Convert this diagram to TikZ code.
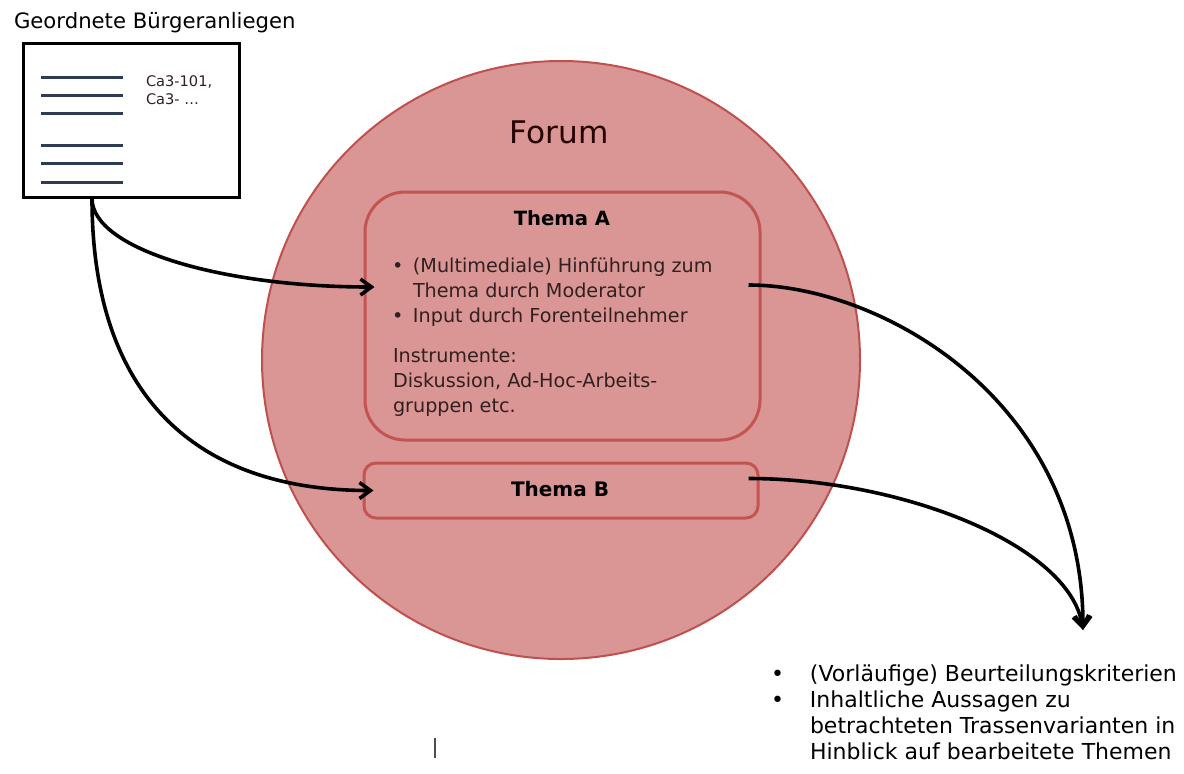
\documentclass[tikz,border=0pt]{standalone}
\usepackage{fontspec}
\setmainfont{DejaVu Sans}
\usetikzlibrary{arrows.meta,positioning}

\definecolor{forumfill}{RGB}{217,150,148}
\definecolor{forumedge}{RGB}{192,80,77}
\definecolor{themaedge}{RGB}{196,84,82}
\definecolor{listline}{RGB}{45,60,82}
\definecolor{darktext}{RGB}{50,32,32}

\tikzset{
  forumcircle/.style={circle, fill=forumfill, draw=forumedge, line width=1pt,
    minimum size=299pt, inner sep=0pt},
  themabox/.style={draw=themaedge, line width=1.5pt, rounded corners=#1,
    inner sep=0pt},
  docbox/.style={draw=black, fill=white, line width=1.5pt, inner sep=0pt,
    minimum width=108pt, minimum height=77pt},
  plaintext/.style={inner sep=0pt, outer sep=0pt},
  itemtext/.style={plaintext, align=left, text=darktext,
    font=\fontsize{9.6}{12.5}\selectfont},
  flowarrow/.style={line width=1.8pt, -{Straight Barb[length=5.5pt,width=8pt]}},
}
\newcommand{\bul}[1]{\makebox[#1][l]{\textbullet}}

\begin{document}
\begin{tikzpicture}[x=0.5pt, y=-0.5pt]
\useasboundingbox (0,0) rectangle (1184,773);

% document with the ordered requests
\node[plaintext, anchor=base west, font=\fontsize{10.6}{13}\selectfont] (title) at (14,28) {Geordnete Bürgeranliegen};
\node[docbox] (doc) at (131,120) {};
\foreach \y in {77,95,113,145,163,182}
  \draw[listline, line width=1.5pt] (41,\y) -- (123,\y);
% base of a multi-line node = last line
\node[plaintext, anchor=base west, align=left, text=darktext, font=\fontsize{7.3}{9}\selectfont] (codes) at (146,104) {Ca3-101,\\Ca3- \dots};

% forum
\node[forumcircle] (forum) at (561,360) {};
\node[plaintext, anchor=base, font=\fontsize{15.6}{18}\selectfont, text=black!85!red] (forumtitle) at (559,143) {Forum};

% Thema A
\node[themabox=20pt, minimum width=197.5pt, minimum height=124pt] (themaA) at (562.5,316) {};
\node[plaintext, anchor=base, font=\bfseries\fontsize{9.8}{12}\selectfont] (themaAtitle) at (562,225) {Thema A};
\node[itemtext, anchor=base west] (themaAitems) at (392,322)
  {\bul{10.5pt}(Multimediale) Hinführung zum\\
   \hspace*{10.5pt}Thema durch Moderator\\
   \bul{10.5pt}Input durch Forenteilnehmer};
\node[itemtext, anchor=base west] (themaAtools) at (393,412)
  {Instrumente:\\Diskussion, Ad-Hoc-Arbeits-\\gruppen etc.};

% Thema B
\node[themabox=6pt, minimum width=197pt, minimum height=27.5pt] (themaB) at (561,490.5) {};
\node[plaintext, anchor=base, font=\bfseries\fontsize{10}{12}\selectfont] (themaBtitle) at (560,496) {Thema B};

% results
\node[plaintext, anchor=base west, align=left, font=\fontsize{11}{13}\selectfont] (result) at (771,759)
  {\bul{19.5pt}(Vorläufige) Beurteilungskriterien\\
   \bul{19.5pt}Inhaltliche Aussagen zu\\
   \hspace*{19.5pt}betrachteten Trassenvarianten in\\
   \hspace*{19.5pt}Hinblick auf bearbeitete Themen};
\coordinate (collect) at (1083,630);
\draw[gray!60!black, line width=1pt] (435,738) -- (435,758);

% arrows
\coordinate (docout) at ([xshift=-19.5pt]doc.south);
\draw[flowarrow] (docout) .. controls +(0,50) and +(-155,0) .. ([xshift=5.5pt,yshift=14.5pt]themaA.west);
\draw[flowarrow] (docout) .. controls +(0,200) and +(-175,0) .. ([xshift=5.5pt]themaB.west);
\draw[flowarrow] ([xshift=-6.5pt,yshift=15.5pt]themaA.east) .. controls +(133,0) and +(0,-230) .. (collect);
\draw[flowarrow] ([xshift=-5.5pt,yshift=6pt]themaB.east) .. controls +(153,0) and +(-13,-85) .. (collect);

\end{tikzpicture}
\end{document}
